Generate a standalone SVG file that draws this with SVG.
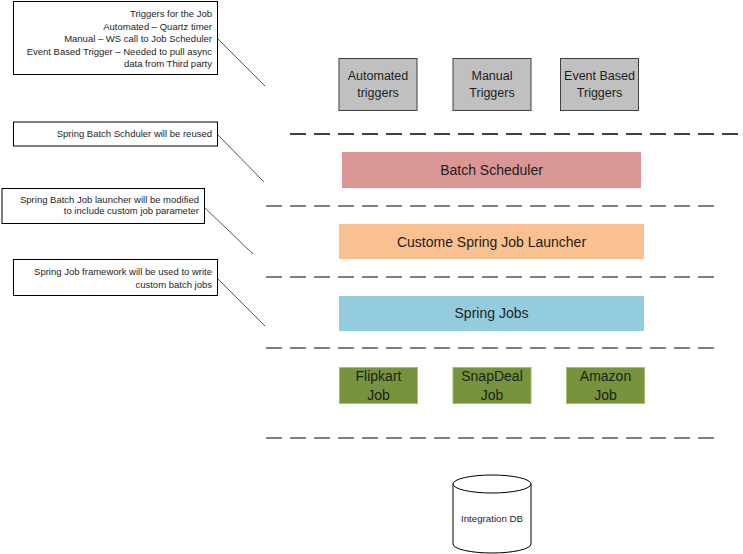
<svg xmlns="http://www.w3.org/2000/svg" width="743" height="554" viewBox="0 0 743 554">
<style>
text{font-family:"Liberation Sans",Arial,sans-serif;fill:#1e1e1e}
.note{font-size:9.5px;text-anchor:end}
.mid{text-anchor:middle}
.box{fill:#fff;stroke:#000;stroke-width:1}
.lead{stroke:#404040;stroke-width:0.9;fill:none}
.dash{stroke:#7f7f7f;stroke-width:2;stroke-dasharray:16 8;fill:none}
.trig{fill:#c0c0c0;stroke:#404040;stroke-width:1}
.job{fill:#77933c;stroke:#a5c06a;stroke-width:1}
.t12{font-size:12.5px}
.t14{font-size:14px}
</style>
<g id="connectors">
<line class="lead" x1="217" y1="38" x2="265" y2="86"/>
<line class="lead" x1="217" y1="134" x2="264" y2="182"/>
<line class="lead" x1="204" y1="207" x2="253" y2="254"/>
<line class="lead" x1="217" y1="278" x2="265" y2="326"/>
<line class="dash" x1="290" y1="134" x2="738" y2="134" style="stroke:#404040"/>
<line class="dash" x1="266" y1="206" x2="714" y2="206"/>
<line class="dash" x1="266" y1="277" x2="714" y2="277"/>
<line class="dash" x1="266" y1="348" x2="714" y2="348"/>
<line class="dash" x1="266" y1="438" x2="714" y2="438"/>
</g>
<g id="note-triggers">
<rect class="box" x="13.5" y="1.5" width="204" height="73"/>
<text class="note" x="212" y="17">Triggers for the Job</text>
<text class="note" x="212" y="29.5">Automated – Quartz timer</text>
<text class="note" x="212" y="42">Manual – WS call to Job Scheduler</text>
<text class="note" x="212" y="54.5">Event Based Trigger – Needed to pull async</text>
<text class="note" x="212" y="67">data from Third party</text>
</g>
<g id="note-scheduler">
<rect class="box" x="13.5" y="122" width="204" height="24"/>
<text class="note" x="212" y="137">Spring Batch Schduler will be reused</text>
</g>
<g id="note-launcher">
<rect class="box" x="2" y="188.5" width="202.5" height="35"/>
<text class="note" x="199" y="203">Spring Batch Job launcher will be modified</text>
<text class="note" x="199" y="214">to include custom job parameter</text>
</g>
<g id="note-framework">
<rect class="box" x="13.5" y="259.5" width="204" height="36"/>
<text class="note" x="212" y="274.5">Spring Job framework will be used to write</text>
<text class="note" x="212" y="287.5">custom batch jobs</text>
</g>
<g id="automated-triggers">
<rect class="trig" x="339" y="58.5" width="78" height="52"/>
<text class="mid t12" x="378" y="80">Automated</text>
<text class="mid t12" x="378" y="97">triggers</text>
</g>
<g id="manual-triggers">
<rect class="trig" x="453" y="58.5" width="78" height="52"/>
<text class="mid t12" x="492" y="80">Manual</text>
<text class="mid t12" x="492" y="97">Triggers</text>
</g>
<g id="event-triggers">
<rect class="trig" x="560.5" y="58.5" width="78" height="52"/>
<text class="mid t12" x="599.5" y="80">Event Based</text>
<text class="mid t12" x="599.5" y="97">Triggers</text>
</g>
<g id="batch-scheduler">
<rect x="342" y="152" width="299" height="36" fill="#d99694"/>
<text class="mid t14" x="491.5" y="175">Batch Scheduler</text>
</g>
<g id="job-launcher">
<rect x="339" y="224" width="305" height="35" fill="#fac090"/>
<text class="mid t14" x="491.5" y="247">Custome Spring Job Launcher</text>
</g>
<g id="spring-jobs">
<rect x="339" y="296" width="305" height="35" fill="#93cddd"/>
<text class="mid t14" x="491.5" y="318">Spring Jobs</text>
</g>
<g id="flipkart-job">
<rect class="job" x="339.5" y="367.5" width="78" height="36"/>
<text class="mid t14" x="378.5" y="381">Flipkart</text>
<text class="mid t14" x="378.5" y="400">Job</text>
</g>
<g id="snapdeal-job">
<rect class="job" x="453" y="367.5" width="78" height="36"/>
<text class="mid t14" x="492" y="381">SnapDeal</text>
<text class="mid t14" x="492" y="400">Job</text>
</g>
<g id="amazon-job">
<rect class="job" x="566.5" y="367.5" width="78" height="36"/>
<text class="mid t14" x="605.5" y="381">Amazon</text>
<text class="mid t14" x="605.5" y="400">Job</text>
</g>
<g id="integration-db">
<path d="M453,484 L453,544 A39,9 0 0 0 531,544 L531,484" fill="#fff" stroke="#000" stroke-width="1"/>
<ellipse cx="492" cy="484" rx="39" ry="9" fill="#fff" stroke="#000" stroke-width="1"/>
<text class="mid" x="492" y="522" style="font-size:9.7px">Integration DB</text>
</g>
</svg>
